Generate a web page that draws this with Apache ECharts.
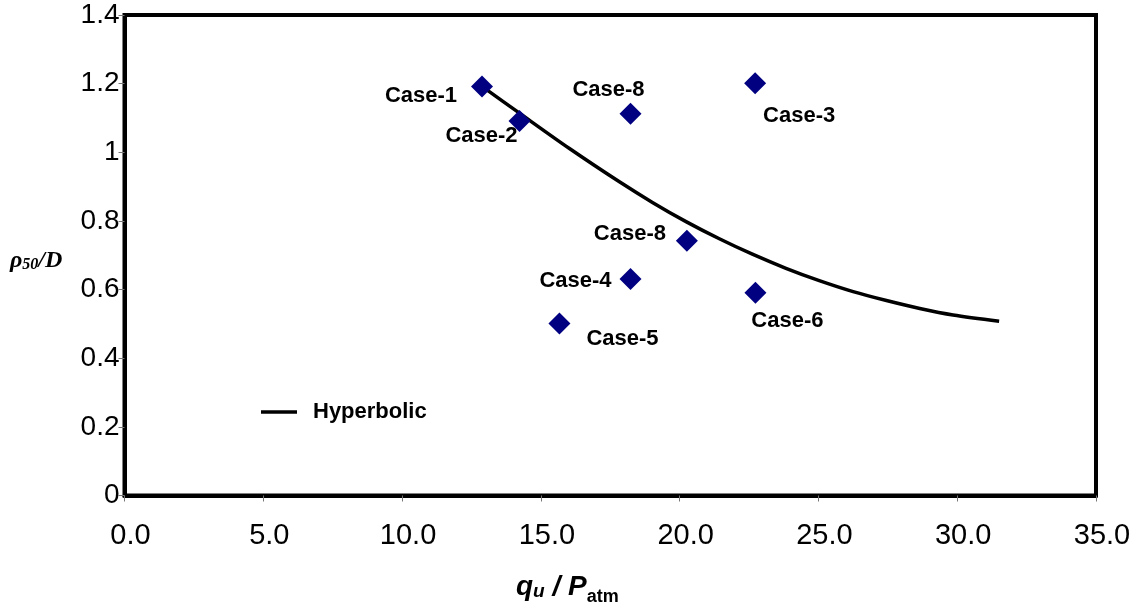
<!DOCTYPE html>
<html>
<head>
<meta charset="utf-8">
<script src="https://cdn.jsdelivr.net/npm/echarts@6/dist/echarts.min.js"></script>
<style>
html,body{margin:0;padding:0;background:#fff;}
#chart{width:1141px;height:615px;}
</style>
</head>
<body>
<div id="chart"></div>
<script>
// ---- data ----
const caseLabels = ['Case-1','Case-2','Case-8','Case-3','Case-8','Case-4','Case-5','Case-6'];
const caseX = [12.88, 14.23, 18.23, 22.72, 20.26, 18.23, 15.67, 22.73];
const caseY = [1.192, 1.091, 1.112, 1.201, 0.742, 0.631, 0.501, 0.591];

const curveX = [12.88, 14.23, 16.03, 17.83, 19.02, 20.23, 21.43, 22.62, 23.83, 25.03, 26.25, 27.45, 28.65, 29.85, 31.51];
const curveY = [1.192, 1.114, 1.011, 0.914, 0.854, 0.798, 0.748, 0.703, 0.662, 0.626, 0.594, 0.568, 0.545, 0.526, 0.508];

const xTickLabels = ['0.0','5.0','10.0','15.0','20.0','25.0','30.0','35.0'];
const yTickLabels = ['0','0.2','0.4','0.6','0.8','1','1.2','1.4'];
const legendName = 'Hyperbolic';

// ---- layout (label offsets relative to each marker) ----
const labelOffsets = [[-61,10],[-38,15],[-22,-24],[44,33],[-57,-7],[-55,2],[63,15],[32,28]];

const font = 'Liberation Sans, Arial, sans-serif';
const serif = 'Liberation Serif, Times New Roman, serif';

const scatterData = caseX.map((x, i) => ({
  value: [x, caseY[i]],
  label: {show: true, position: 'inside', offset: labelOffsets[i], formatter: caseLabels[i],
          fontFamily: font, fontSize: 22, fontWeight: 'bold', color: '#000'}
}));
const lineData = curveX.map((x, i) => [x, curveY[i]]);

const chart = echarts.init(document.getElementById('chart'), null, {renderer: 'canvas'});
chart.setOption({
  animation: false,
  backgroundColor: '#fff',
  grid: {left: 124.5, right: 45, top: 15, bottom: 119.5, show: true, borderColor: '#000', borderWidth: 4, containLabel: false},
  xAxis: {
    type: 'value', min: 0, max: 35, interval: 5,
    axisLine: {show: true, onZero: false, lineStyle: {color: '#000', width: 4}},
    axisTick: {show: true, inside: false, length: 6, lineStyle: {color: '#777', width: 1}},
    splitLine: {show: false},
    axisLabel: {
      margin: 26, fontFamily: font, fontSize: 29, color: '#000',
      padding: [0, 0, 0, 12],
      formatter: (v) => xTickLabels[Math.round(v / 5)]
    }
  },
  yAxis: {
    type: 'value', min: 0, max: 1.4, interval: 0.2,
    axisLine: {show: true, onZero: false, lineStyle: {color: '#000', width: 4}},
    axisTick: {show: true, inside: false, length: 6, lineStyle: {color: '#777', width: 1}},
    splitLine: {show: false},
    axisLabel: {
      margin: 5, fontFamily: font, fontSize: 28, color: '#000',
      padding: [6, 0, 0, 0],
      formatter: (v) => yTickLabels[Math.round(v / 0.2)]
    }
  },
  legend: {
    data: [legendName], left: 256, top: 396, orient: 'vertical',
    icon: 'rect', itemWidth: 36, itemHeight: 3.5,
    textStyle: {fontFamily: font, fontSize: 22, fontWeight: 'bold', color: '#000', padding: [0, 0, 0, 11]}
  },
  series: [
    {
      name: legendName, type: 'line', data: lineData, smooth: 0.3,
      symbol: 'none', lineStyle: {color: '#000', width: 3.5}, itemStyle: {color: '#000'}, z: 3
    },
    {
      name: 'Cases', type: 'scatter', data: scatterData,
      symbol: 'diamond', symbolSize: 22,
      itemStyle: {color: '#000080', opacity: 1},
      z: 4
    }
  ],
  graphic: [
    {
      type: 'text', left: 10, top: 249,
      style: {
        text: '{r|ρ}{s|50}{r|/D}',
        rich: {
          r: {fontFamily: serif, fontStyle: 'italic', fontWeight: 'bold', fontSize: 24, fill: '#000'},
          s: {fontFamily: serif, fontStyle: 'italic', fontWeight: 'bold', fontSize: 16, fill: '#000', padding: [8, 0, 0, 0]}
        }
      }
    },
    {
      type: 'text', left: 516, top: 573,
      style: {
        text: '{q|q}{u|u}{q| / P}{a|atm}',
        rich: {
          q: {fontFamily: font, fontStyle: 'italic', fontWeight: 'bold', fontSize: 28, fill: '#000'},
          u: {fontFamily: font, fontStyle: 'italic', fontWeight: 'bold', fontSize: 19, fill: '#000', padding: [10, 0, 0, 0]},
          a: {fontFamily: font, fontWeight: 'bold', fontSize: 18, fill: '#000', padding: [20, 0, 0, 0]}
        }
      }
    }
  ]
});
</script>
</body>
</html>
